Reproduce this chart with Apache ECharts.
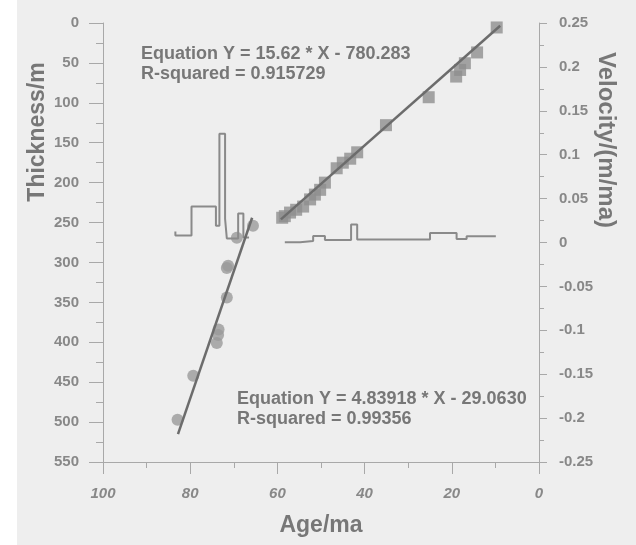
<!DOCTYPE html>
<html>
<head>
<meta charset="utf-8">
<script src="https://cdn.jsdelivr.net/npm/echarts@6/dist/echarts.min.js"></script>
<style>
  html, body { margin: 0; padding: 0; background: #fff; }
  #chart { width: 636px; height: 545px; }
</style>
</head>
<body>
<div id="chart"></div>
<script>
// circles: thickness (m) against age (ma)
const circleAge = [65.6, 69.3, 71.3, 71.6, 71.6, 73.5, 73.6, 73.9, 79.3, 82.9];
const circleThick = [254, 269, 304, 307, 344, 384, 391, 401, 442, 497];
// squares: thickness (m) against age (ma)
const squareAge = [9.7, 14.2, 17.0, 18.1, 19.0, 25.3, 35.1, 41.7, 43.3, 45.0, 46.4, 49.1, 50.2, 51.4, 52.5, 54.1, 55.7, 57.1, 58.3, 58.9];
const squareThick = [5.6, 36.9, 50.4, 58.8, 67.1, 93, 128, 162, 170, 175, 182, 200, 209, 215, 221, 230, 234, 237.5, 242, 244];
// fitted lines (end points)
const circleFitAge = [82.8, 65.8];
const circleFitThick = [515, 244];
const squareFitAge = [59.2, 8.9];
const squareFitThick = [246, 3.5];
// velocity step curves (age where level ends, level)
const velOldAge = [83.4, 79.7, 74.1, 73.3, 72.0, 71.6, 69.0, 67.8, 66.5];
const velOld = [0.0126, 0.008, 0.041, 0.019, 0.124, 0.027, 0.0046, 0.033, 0.0057];
const velYoungAge = [58.3, 54.8, 51.8, 49.1, 43.1, 41.7, 25.0, 18.9, 16.6, 9.9];
const velYoung = [0.0003, 0.0003, 0.0017, 0.0074, 0.0029, 0.0205, 0.0034, 0.0108, 0.004, 0.0072];
// text
const eqTop = ['Equation Y = 15.62 * X - 780.283', 'R-squared = 0.915729'];
const eqBottom = ['Equation Y = 4.83918 * X - 29.0630', 'R-squared = 0.99356'];

const zip = (a, b) => a.map((v, i) => [v, b[i]]);

const FONT = "'Liberation Sans', Arial, sans-serif";
const axisGray = '#a8a8a8';
const labelStyle = { color: '#888', fontSize: 15, fontWeight: 'bold', fontFamily: FONT };

const chart = echarts.init(document.getElementById('chart'));
chart.setOption({
    backgroundColor: '#eeeeee',
    animation: false,
    grid: { left: 103, right: 97, top: 23, bottom: 83 },
    xAxis: {
        type: 'value', inverse: true, min: 0, max: 100, interval: 20, position: 'bottom',
        name: 'Age/ma', nameLocation: 'middle', nameGap: 52,
        nameTextStyle: { color: '#777', fontSize: 23, fontWeight: 'bold', fontFamily: FONT },
        axisLine: { onZero: false, lineStyle: { color: axisGray } },
        axisTick: { length: 12, lineStyle: { color: axisGray } },
        minorTick: { show: true, splitNumber: 2, length: 6, lineStyle: { color: axisGray } },
        splitLine: { show: false },
        axisLabel: Object.assign({ margin: 24, fontStyle: 'italic' }, labelStyle)
    },
    yAxis: [{
        type: 'value', inverse: true, min: 0, max: 550, interval: 50, position: 'left',
        axisLine: { show: true, onZero: false, lineStyle: { color: axisGray } },
        axisTick: { show: true, length: 14, lineStyle: { color: axisGray } },
        minorTick: { show: true, splitNumber: 2, length: 7, lineStyle: { color: axisGray } },
        splitLine: { show: false },
        axisLabel: Object.assign({ margin: 24 }, labelStyle)
    }, {
        type: 'value', position: 'right', min: -0.25, max: 0.25, interval: 0.05,
        axisLine: { show: true, onZero: false, lineStyle: { color: axisGray } },
        axisTick: { show: true, length: 8, lineStyle: { color: axisGray } },
        minorTick: { show: true, splitNumber: 2, length: 5, lineStyle: { color: axisGray } },
        splitLine: { show: false },
        axisLabel: Object.assign({ margin: 20, formatter: v => String(+v.toFixed(2)) }, labelStyle)
    }],
    graphic: [
        { type: 'rect', left: 0, top: 0, shape: { width: 17, height: 545 }, style: { fill: '#fff' } },
        { type: 'text', x: 38, y: 132, rotation: Math.PI / 2,
          style: { text: 'Thickness/m', fill: '#777', font: 'bold 23px ' + FONT, align: 'center', verticalAlign: 'middle' } },
        { type: 'text', x: 606, y: 140, rotation: -Math.PI / 2,
          style: { text: 'Velocity/(m/ma)', fill: '#777', font: 'bold 24px ' + FONT, align: 'center', verticalAlign: 'middle' } },
        { type: 'text', x: 141, y: 44,
          style: { text: eqTop.join('\n'), fill: '#777', font: 'bold 18px ' + FONT, lineHeight: 20 } },
        { type: 'text', x: 237, y: 389,
          style: { text: eqBottom.join('\n'), fill: '#777', font: 'bold 18px ' + FONT, lineHeight: 20 } }
    ],
    series: [{
        type: 'line', yAxisIndex: 1, step: 'start', showSymbol: false,
        lineStyle: { color: '#8a8a8a', width: 2 }, data: zip(velOldAge, velOld)
    }, {
        type: 'line', yAxisIndex: 1, step: 'start', showSymbol: false,
        lineStyle: { color: '#8a8a8a', width: 2 }, data: zip(velYoungAge, velYoung)
    }, {
        type: 'scatter', yAxisIndex: 0, symbol: 'circle', symbolSize: 12,
        itemStyle: { color: '#9a9a9a' }, data: zip(circleAge, circleThick)
    }, {
        type: 'scatter', yAxisIndex: 0, symbol: 'rect', symbolSize: 12,
        itemStyle: { color: '#8e8e8e' }, data: zip(squareAge, squareThick)
    }, {
        type: 'line', yAxisIndex: 0, showSymbol: false, z: 5,
        lineStyle: { color: '#6c6c6c', width: 2.5 }, data: zip(circleFitAge, circleFitThick)
    }, {
        type: 'line', yAxisIndex: 0, showSymbol: false, z: 5,
        lineStyle: { color: '#6c6c6c', width: 2.5 }, data: zip(squareFitAge, squareFitThick)
    }]
});
</script>
</body>
</html>
